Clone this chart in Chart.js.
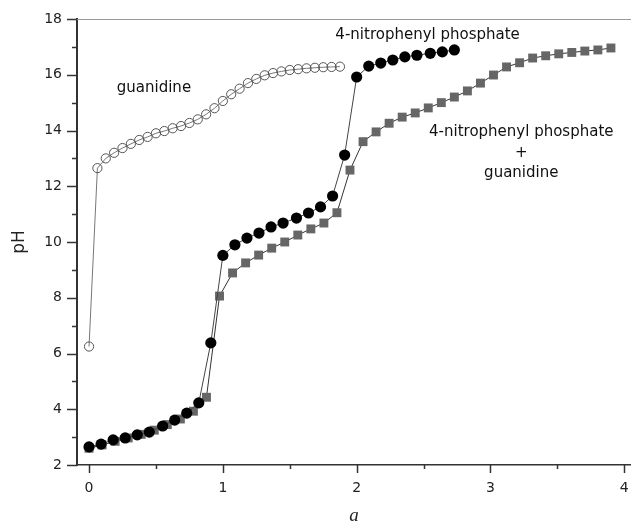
<!DOCTYPE html>
<html>
<head>
<meta charset="utf-8">
<script src="https://cdn.jsdelivr.net/npm/chart.js@4/dist/chart.umd.min.js"></script>
<style>
  html, body { margin: 0; padding: 0; background: #fff; }
  #wrap { width: 631px; height: 529px; }
</style>
</head>
<body>
<div id="wrap"><canvas id="phChart"></canvas></div>
<script>
// titration data: a (equivalents) vs pH
const guanX = [0, 0.0625, 0.125, 0.1875, 0.25, 0.3125, 0.375, 0.4375, 0.5, 0.5625, 0.625,
    0.6875, 0.75, 0.8125, 0.875, 0.9375, 1.0, 1.0625, 1.125, 1.1875, 1.25, 1.3125,
    1.375, 1.4375, 1.5, 1.5625, 1.625, 1.6875, 1.75, 1.8125, 1.875];
const guanPH = [6.25, 12.65, 13.0, 13.2, 13.37, 13.52, 13.66, 13.77, 13.9, 13.98, 14.08,
    14.16, 14.27, 14.4, 14.58, 14.8, 15.06, 15.3, 15.5, 15.7, 15.85, 15.98,
    16.06, 16.12, 16.17, 16.2, 16.23, 16.25, 16.27, 16.28, 16.29];

const nppX = [0, 0.09, 0.18, 0.27, 0.36, 0.45, 0.55, 0.64, 0.73, 0.82, 0.91,
    1.0, 1.09, 1.18, 1.27, 1.36, 1.45, 1.55, 1.64, 1.73, 1.82, 1.91,
    2.0, 2.09, 2.18, 2.27, 2.36, 2.45, 2.55, 2.64, 2.73];
const nppPH = [2.65, 2.75, 2.9, 2.97, 3.08, 3.18, 3.4, 3.61, 3.86, 4.23, 6.38,
    9.52, 9.9, 10.14, 10.32, 10.54, 10.68, 10.86, 11.04, 11.26, 11.65, 13.12,
    15.92, 16.31, 16.42, 16.53, 16.64, 16.7, 16.77, 16.82, 16.89];

const mixX = [0, 0.0975, 0.195, 0.2925, 0.39, 0.4875, 0.585, 0.6825, 0.78, 0.8775,
    0.975, 1.0725, 1.17, 1.2675, 1.365, 1.4625, 1.56, 1.6575, 1.755, 1.8525,
    1.95, 2.0475, 2.145, 2.2425, 2.34, 2.4375, 2.535, 2.6325, 2.73, 2.8275,
    2.925, 3.0225, 3.12, 3.2175, 3.315, 3.4125, 3.51, 3.6075, 3.705, 3.8025, 3.9];
const mixPH = [2.6, 2.72, 2.85, 2.97, 3.1, 3.25, 3.45, 3.65, 3.93, 4.43,
    8.06, 8.89, 9.25, 9.53, 9.78, 10.0, 10.25, 10.47, 10.68, 11.05,
    12.58, 13.6, 13.95, 14.26, 14.48, 14.63, 14.81, 15.0, 15.2, 15.42,
    15.7, 15.99, 16.28, 16.43, 16.6, 16.68, 16.75, 16.8, 16.85, 16.89, 16.96];

const xTicks = [0, 1, 2, 3, 4];
const yTicks = [2, 4, 6, 8, 10, 12, 14, 16, 18];

// text labels placed in data units: [text, x, pH]
const notes = [
    ['guanidine', 0.485, 15.52],
    ['4-nitrophenyl phosphate', 2.53, 17.43],
    ['4-nitrophenyl phosphate', 3.23, 13.95],
    ['+', 3.23, 13.2],
    ['guanidine', 3.23, 12.48]
];

function toPoints(xs, ys) {
    return xs.map((x, i) => ({ x: x, y: ys[i] }));
}

const font = 'DejaVu Sans, Liberation Sans, Arial, sans-serif';

// minor + major tick marks, top frame line and the curve labels
const decorPlugin = {
    id: 'decor',
    afterDraw(chart) {
        const ctx = chart.ctx;
        const xs = chart.scales.x, ys = chart.scales.y;
        const area = chart.chartArea;
        ctx.save();
        ctx.strokeStyle = '#333';
        ctx.lineWidth = 1.5;
        for (let v = 2; v <= 18; v += 1) {
            const py = Math.round(ys.getPixelForValue(v)) + 0.5;
            const len = v % 2 === 0 ? 10 : 5;
            ctx.beginPath();
            ctx.moveTo(area.left - len, py);
            ctx.lineTo(area.left, py);
            ctx.stroke();
        }
        for (let v = 0; v <= 4; v += 0.5) {
            const px = Math.round(xs.getPixelForValue(v)) + 0.5;
            const len = Number.isInteger(v) ? 8 : 4;
            ctx.beginPath();
            ctx.moveTo(px, area.bottom);
            ctx.lineTo(px, area.bottom + len);
            ctx.stroke();
        }
        // thin grey frame line on top
        ctx.strokeStyle = '#999';
        ctx.lineWidth = 1;
        ctx.beginPath();
        ctx.moveTo(area.left, area.top + 0.5);
        ctx.lineTo(area.right, area.top + 0.5);
        ctx.stroke();

        ctx.fillStyle = '#111';
        ctx.font = '15px ' + font;
        ctx.textAlign = 'center';
        ctx.textBaseline = 'middle';
        notes.forEach(n => {
            ctx.fillText(n[0], xs.getPixelForValue(n[1]), ys.getPixelForValue(n[2]));
        });
        ctx.restore();
    }
};

const chartCtx = document.getElementById('phChart').getContext('2d');
const phChart = new Chart(chartCtx, {
    type: 'scatter',
    data: {
        datasets: [{
            label: '4-nitrophenyl phosphate + guanidine',
            data: toPoints(mixX, mixPH),
            showLine: true,
            borderColor: '#333',
            borderWidth: 1,
            pointStyle: 'rect',
            pointRadius: 6.3,
            pointBackgroundColor: '#666',
            pointBorderColor: '#666',
            pointBorderWidth: 0,
            order: 3
        }, {
            label: 'guanidine',
            data: toPoints(guanX, guanPH),
            showLine: true,
            borderColor: '#777',
            borderWidth: 1,
            pointStyle: 'circle',
            pointRadius: 4.6,
            pointBackgroundColor: 'rgba(0,0,0,0)',
            pointBorderColor: '#555',
            pointBorderWidth: 1,
            order: 2
        }, {
            label: '4-nitrophenyl phosphate',
            data: toPoints(nppX, nppPH),
            showLine: true,
            borderColor: '#444',
            borderWidth: 1,
            pointStyle: 'circle',
            pointRadius: 5.6,
            pointBackgroundColor: '#000',
            pointBorderColor: '#000',
            pointBorderWidth: 0,
            order: 1
        }]
    },
    options: {
        responsive: true,
        maintainAspectRatio: false,
        animation: false,
        layout: { autoPadding: false, padding: { top: 19, right: 0, left: 0, bottom: 0 } },
        plugins: {
            legend: { display: false },
            tooltip: { enabled: false }
        },
        elements: { line: { tension: 0 } },
        scales: {
            x: {
                type: 'linear',
                min: -0.09,
                max: 4.05,
                afterBuildTicks: s => { s.ticks = xTicks.map(v => ({ value: v })); },
                afterFit: s => {
                    s.height = 64;
                    s.paddingLeft = 0;
                    s.paddingRight = 0;
                },
                ticks: { font: { family: font, size: 14 }, color: '#222', padding: 15 },
                grid: { display: true, drawOnChartArea: false, drawTicks: false },
                border: { color: '#333', width: 1.5 },
                title: {
                    display: true,
                    text: 'a',
                    font: { family: 'Liberation Serif, Times New Roman, serif', size: 19, style: 'italic' },
                    color: '#222',
                    padding: { top: 0, bottom: 2 }
                }
            },
            y: {
                type: 'linear',
                min: 2,
                max: 18,
                afterBuildTicks: s => { s.ticks = yTicks.map(v => ({ value: v })); },
                afterFit: s => {
                    s.width = 77;
                    s.paddingTop = 0;
                    s.paddingBottom = 0;
                },
                ticks: { font: { family: font, size: 14 }, color: '#222', padding: 15 },
                grid: { display: true, drawOnChartArea: false, drawTicks: false },
                border: { color: '#333', width: 2 },
                title: {
                    display: true,
                    text: 'pH',
                    font: { family: font, size: 17 },
                    color: '#222',
                    padding: { top: 9, bottom: 0 }
                }
            }
        }
    },
    plugins: [decorPlugin]
});
</script>
</body>
</html>
